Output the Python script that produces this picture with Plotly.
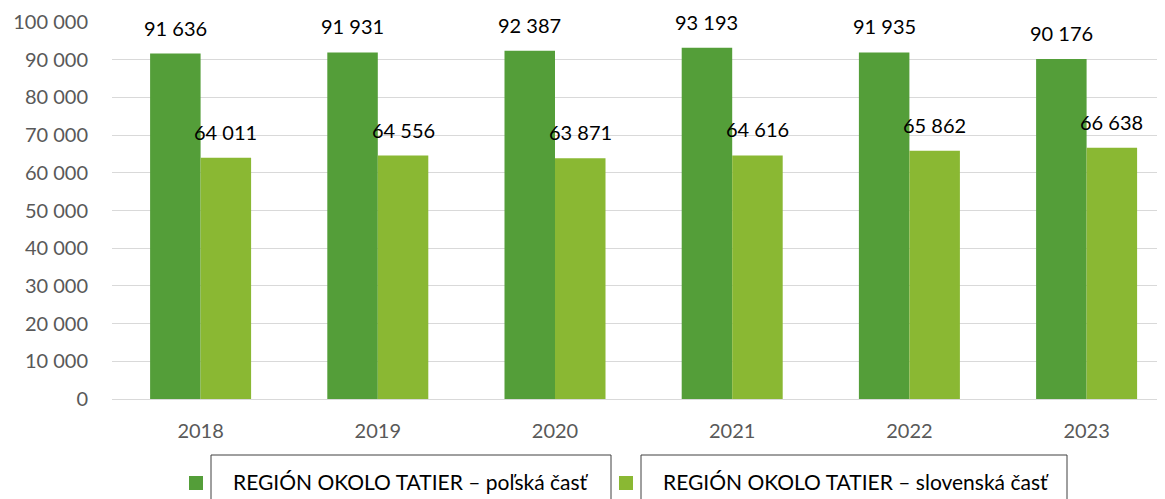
import plotly.graph_objects as go

years = ["2018", "2019", "2020", "2021", "2022", "2023"]
series_names = ["REGIÓN OKOLO TATIER – poľská časť", "REGIÓN OKOLO TATIER – slovenská časť"]
polish = [91636, 91931, 92387, 93193, 91935, 90176]
slovak = [64011, 64556, 63871, 64616, 65862, 66638]
colors = ["#549E39", "#8AB833"]
y_ticks = list(range(0, 100001, 10000))

# the page places the figure 8px from the top-left corner (default body margin)
OFF = 8
W, H = 1165 - OFF, 499 - OFF
L, R, T, B = 112 - OFF, 0, 22 - OFF, 100
FONT = "Lato"

xs = list(range(len(years)))
fig = go.Figure()
for vals, name, col in zip([polish, slovak], series_names, colors):
    fig.add_trace(go.Bar(x=xs, y=vals, name=name, marker=dict(color=col, line=dict(width=0)),
                         showlegend=False))

# data labels
bw = (1 - 0.43) / 2
for k, vals in enumerate([polish, slovak]):
    off = (k - 0.5) * bw
    for i, v in enumerate(vals):
        fig.add_annotation(x=i + off, y=v, xref="x", yref="y", text=f"{v:,}".replace(",", " "),
                           showarrow=False, yanchor="bottom", xanchor="center", yshift=12,
                           font=dict(family=FONT, size=20, color="#000000"))

# manual legend (positions given in page pixels)
pw = W - L - R
ph = H - T - B
def px(xp):
    return (xp - OFF - L) / pw
def py(yp):
    return (H - B - (yp - OFF)) / ph

boxes = [(211, 611, 189), (641, 1067, 619)]
for (bl, br, mx), name, col in zip(boxes, series_names, colors):
    fig.add_shape(type="rect", xref="paper", yref="paper", x0=px(bl), x1=px(br), y0=py(455), y1=py(520),
                  line=dict(color="#404040", width=1), fillcolor="rgba(0,0,0,0)")
    fig.add_shape(type="rect", xref="paper", yref="paper", x0=px(mx), x1=px(mx + 14), y0=py(476), y1=py(490),
                  line=dict(width=0), fillcolor=col)
    fig.add_annotation(x=px(bl + 20), y=py(481), xref="paper", yref="paper", text=name, showarrow=False,
                       xanchor="left", yanchor="middle", font=dict(family=FONT, size=21, color="#000000"))

fig.update_layout(
    width=W, height=H,
    margin=dict(l=L, r=R, t=T, b=B, pad=0, autoexpand=False),
    plot_bgcolor="white", paper_bgcolor="white",
    barmode="group", bargap=0.43, bargroupgap=0,
    separators=". ",
    font=dict(family=FONT, size=20, color="#595959"),
)
fig.update_xaxes(range=[-0.5, -0.5 + (1165 - 112) / 177.2], tickmode="array", tickvals=xs, ticktext=years,
                 showgrid=False, zeroline=False, showline=False, ticks="", ticklabelstandoff=18,
                 automargin=False, tickfont=dict(family=FONT, size=20, color="#595959"))
fig.update_yaxes(range=[0, 100000], tickvals=y_ticks, tickformat=",d", showgrid=True, gridcolor="#D9D9D9",
                 gridwidth=1, zeroline=True, zerolinecolor="#D9D9D9", zerolinewidth=1, showline=False,
                 ticks="", ticklabelstandoff=23, automargin=False,
                 tickfont=dict(family=FONT, size=20, color="#595959"))

fig.write_html("out.html")
